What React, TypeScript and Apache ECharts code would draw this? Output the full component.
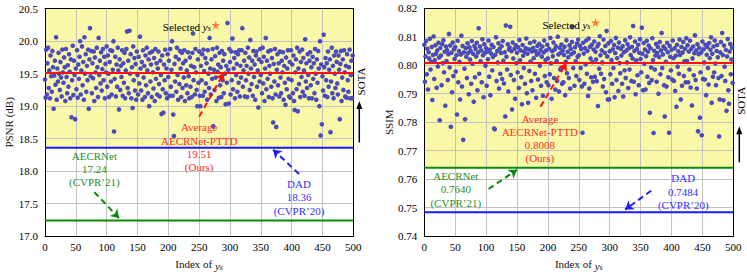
import React, { useEffect, useRef } from 'react';
import * as echarts from 'echarts';

// PSNR (dB) of each candidate y_s, index 0..499
const psnrValues = [
  19.41,19.13,19.87,19.18,19.66,19.90,19.28,19.55,19.12,19.78,19.46,19.22,19.85,19.60,18.96,19.47,19.70,19.33,20.06,19.10,19.58,19.38,19.82,19.50,19.25,
  19.68,19.44,19.15,19.87,19.52,19.36,19.75,19.60,19.08,19.88,19.45,19.20,19.63,19.30,19.80,19.53,19.12,19.72,18.83,19.40,19.93,19.17,19.70,19.48,18.80,
  19.58,19.26,19.86,19.13,19.64,19.42,19.76,20.00,19.18,19.55,19.92,19.32,19.68,19.10,20.06,19.50,19.80,19.22,19.62,19.40,19.87,18.96,19.72,20.20,19.46,
  19.85,19.20,19.66,19.43,19.84,19.08,19.75,19.52,19.28,19.90,19.60,19.14,20.05,19.48,19.70,19.35,19.83,19.24,19.57,19.88,19.40,19.76,19.12,19.65,19.52,
  19.92,19.30,19.78,19.50,19.14,19.68,19.86,19.38,19.18,19.85,19.56,20.00,18.61,19.42,19.76,19.15,19.64,19.30,19.90,19.55,18.95,19.72,19.25,19.62,19.45,
  19.86,19.16,19.66,19.36,19.82,19.12,19.55,19.88,20.15,19.28,19.70,19.20,20.16,19.50,19.80,19.12,19.60,18.97,19.92,19.40,19.74,19.24,19.65,19.10,19.84,
  19.48,19.18,19.76,19.35,20.07,19.58,19.24,19.68,19.10,19.86,19.44,19.62,19.14,19.78,19.32,19.90,19.55,19.20,19.72,19.00,19.82,19.38,19.64,19.14,19.84,
  19.52,19.27,19.74,19.08,19.88,19.42,19.66,19.18,19.58,19.84,19.34,19.15,19.70,19.48,18.88,19.78,19.26,18.90,19.64,19.40,19.87,19.20,19.58,19.12,19.80,
  19.45,19.70,19.16,19.88,19.30,19.56,20.00,19.16,18.87,18.54,19.65,19.38,19.76,19.22,19.90,19.48,19.10,19.72,19.34,19.85,19.58,19.14,19.82,19.28,19.66,
  19.44,19.86,19.08,19.70,19.32,19.55,19.20,19.83,19.46,19.12,19.75,19.30,19.62,19.14,19.82,20.12,19.40,19.60,19.18,19.88,19.52,19.25,19.00,19.72,19.36,
  19.84,19.16,19.00,19.62,19.40,19.80,19.16,19.87,19.54,19.22,19.74,19.35,19.66,19.10,19.86,19.50,19.28,20.05,19.58,19.18,19.72,19.42,19.88,18.69,19.56,
  19.25,19.77,19.44,19.08,19.90,19.53,19.64,19.13,19.82,19.32,19.60,19.14,19.85,19.40,19.70,19.20,19.80,19.50,19.03,19.62,19.36,20.28,19.56,19.04,19.88,
  19.68,19.18,19.84,19.40,20.04,19.26,19.58,19.74,19.12,19.83,19.48,19.65,19.22,19.80,19.36,19.86,19.15,19.62,19.44,19.86,20.20,19.30,19.55,19.70,19.15,
  19.82,19.40,19.62,19.14,19.90,19.50,19.75,19.25,20.02,19.58,19.34,19.70,19.16,19.85,19.45,19.64,19.10,19.78,19.84,19.30,19.55,18.98,19.72,19.38,19.88,
  19.48,19.68,19.20,19.90,19.35,19.76,19.08,19.58,20.05,19.26,19.70,19.42,19.84,19.14,19.62,19.50,19.86,19.30,19.74,19.12,18.75,19.65,19.38,19.88,19.18,
  18.68,19.56,19.80,19.32,19.66,19.15,19.84,19.44,19.20,19.70,19.52,19.83,19.10,19.62,19.36,19.02,19.75,19.26,19.58,19.86,19.42,19.15,19.68,19.13,19.86,
  19.40,19.64,19.20,19.78,19.08,18.94,19.52,19.72,19.26,19.90,18.92,19.58,19.34,19.84,19.14,19.68,19.45,19.87,19.22,19.74,19.55,19.16,20.03,19.38,19.66,
  19.28,19.80,19.48,19.12,19.70,19.83,19.32,19.60,19.12,19.76,19.42,19.66,19.20,19.88,19.50,19.10,19.72,19.36,19.85,19.58,19.00,20.00,18.55,19.64,18.72,
  19.46,19.24,20.10,19.60,19.16,19.74,19.40,19.66,19.14,19.84,19.30,19.56,19.72,18.60,19.38,19.90,19.20,19.62,19.12,19.78,19.50,19.28,19.84,19.68,19.35,
  19.18,19.78,19.56,18.80,19.65,19.85,19.08,19.44,19.72,19.25,19.86,19.52,19.15,19.62,19.13,19.80,19.40,19.22,19.60,19.87,19.12,19.48,19.70,19.12,19.78,
];

// SSIM of each candidate y_s, index 0..499
const ssimValues = [
  .8072,.7942,.8031,.8085,.7968,.8058,.7915,.8046,.8024,.8093,.7985,.8012,.8064,.7878,.8036,.8101,.7952,.8018,.8070,.8040,.7921,.8052,.7996,.8079,.8027,
  .7807,.8061,.8034,.7930,.8075,.8008,.8088,.7975,.8047,.7858,.8066,.8015,.8053,.7948,.8039,.8110,.7992,.8069,.7784,.8044,.7905,.8080,.7962,.8056,.8022,
  .8064,.7978,.8035,.7827,.8086,.7940,.8050,.8012,.7880,.8038,.8104,.7925,.8068,.7738,.8045,.7988,.7810,.8060,.8030,.7955,.8077,.8043,.7898,.8063,.8020,
  .8051,.7935,.8085,.8005,.8040,.7872,.8068,.7958,.8057,.8031,.8079,.7912,.8045,.8130,.7970,.8066,.8014,.8052,.7940,.8091,.8035,.7888,.8074,.8044,.7998,
  .8060,.7928,.8048,.8021,.8087,.7960,.8055,.7895,.8041,.8072,.7982,.8029,.8064,.7778,.7775,.8037,.8098,.7945,.8050,.8010,.8077,.7918,.8058,.7970,.8043,
  .8067,.7952,.8085,.8016,.7936,.8046,.7820,.8140,.8030,.7985,.8074,.7908,.8055,.8062,.8135,.7966,.8049,.7845,.8080,.8024,.7948,.8058,.7882,.8070,.8008,
  .8044,.7975,.8063,.7920,.8089,.8018,.8052,.7958,.7863,.8071,.8033,.7990,.8047,.7935,.8060,.8094,.7902,.8040,.7868,.8056,.7980,.8078,.8013,.7945,.8048,
  .7912,.8061,.8025,.8083,.7970,.8050,.7886,.8037,.8068,.7950,.8041,.8075,.7998,.8054,.7928,.8030,.8066,.7893,.8045,.8087,.7962,.8018,.8052,.7940,.8072,
  .8024,.7930,.8058,.7968,.8096,.8007,.7882,.8049,.8032,.8080,.7955,.8055,.7915,.8067,.8015,.7945,.8100,.8038,.7908,.8061,.7985,.8044,.8073,.7935,.8052,
  .7940,.8036,.8065,.7895,.8012,.8088,.7972,.8047,.8028,.7955,.8070,.7918,.8058,.8039,.8082,.8134,.7990,.8045,.7928,.8063,.8014,.7962,.8076,.8030,.8090,
  .8035,.7948,.8068,.7990,.8057,.7925,.7763,.8079,.8041,.7935,.8060,.8003,.8087,.7970,.8050,.7892,.8094,.7918,.8064,.8024,.7958,.8072,.8011,.7942,.8055,
  .8083,.7960,.8047,.8020,.7944,.8066,.7857,.8075,.7988,.8102,.8035,.7970,.8052,.8010,.7925,.8090,.7952,.8044,.8068,.7905,.8120,.8031,.7880,.8077,.7880,
  .8049,.7968,.8085,.8018,.7935,.8056,.7990,.8071,.7888,.8043,.8096,.7948,.8025,.8062,.7910,.8080,.8008,.7972,.8058,.8034,.7935,.8067,.7890,.8046,.7982,
  .8088,.7955,.8052,.8010,.8074,.7920,.8060,.7985,.8098,.8036,.7945,.8065,.8024,.8138,.7942,.8050,.8083,.7898,.8017,.8057,.7965,.8072,.7930,.8044,.8091,
  .8022,.7975,.8132,.8040,.7912,.8078,.8005,.8055,.7915,.8032,.8086,.7960,.8047,.8069,.7938,.7833,.8060,.7992,.7948,.8095,.8018,.7762,.8051,.7985,.8034,
  .8075,.7942,.8043,.8064,.7900,.8029,.8082,.7968,.8052,.8113,.7990,.8038,.8066,.7930,.7820,.8057,.8012,.7925,.8079,.8046,.7958,.7763,.8068,.8030,.7982,
  .8054,.7950,.8087,.8025,.7945,.8060,.7910,.8033,.7854,.8072,.7995,.8049,.7970,.8090,.8036,.7880,.8064,.7928,.8045,.8082,.7962,.8014,.8058,.7940,.8095,
  .8015,.8070,.7940,.8048,.7985,.8086,.7922,.8057,.7859,.8024,.8066,.7965,.8042,.8105,.7948,.8052,.7918,.8074,.7768,.8039,.8061,.7816,.7975,.8045,.7754,
  .8083,.7952,.8056,.8010,.7950,.8072,.7895,.8037,.8064,.7990,.7932,.8078,.8025,.8054,.8098,.7868,.8040,.7960,.8066,.7975,.8087,.8006,.7930,.8050,.8071,
  .8028,.7955,.7750,.7880,.8045,.8082,.7962,.8113,.8036,.7877,.8069,.7995,.7945,.8054,.7840,.8031,.8092,.7912,.7865,.8048,.8075,.7968,.8020,.8062,.7938,
];

// methods: [ours (average), DAD, AECRNet]
const methodNames = ['AECRNet-PTTD', 'DAD', 'AECRNet'];
const methodVenues = ['(Ours)', '(CVPR\u201920)', '(CVPR\u201921)'];
const psnrScores = [19.51, 18.36, 17.24];
const ssimScores = [0.8008, 0.7484, 0.764];
const selectedPoint = [277, 20.25];
const selectedPointSsim = [277, 0.815];
const xTickValues = [0, 500, 50];

const FONT = 'Liberation Serif';
const COLORS = ['#ff1010', '#1a1aff', '#0a8a0a'];
const TEXT_COLORS = ['#ff2b2b', '#3030ff', '#1f8f1f'];
const DOT = '#4a4abf';
const YELLOW = '#f9f7a8';
const STAR = 'path://M50,0 L61,35 L98,35 L68,57 L79,91 L50,70 L21,91 L32,57 L2,35 L39,35 Z';

const panels = [
  {
    values: psnrValues, scores: psnrScores, sel: selectedPoint, yMin: 17, yMax: 20.5, yInt: 0.5,
    tickDigits: 1, scoreDigits: 2, name: 'PSNR (dB)',
    grid: { left: 45, top: 8.7, width: 308.3, height: 228.8 },
    arrows: [[250, 18.839, 290, 19.51], [412, 17.956, 370, 18.33], [80, 17.676, 120, 17.278]],
    texts: [[250, 18.776], [412, 17.904], [80, 18.339]],
    sota: [18.44, 19.08, 19.38],
  },
  {
    values: ssimValues, scores: ssimScores, sel: selectedPointSsim, yMin: 0.74, yMax: 0.82, yInt: 0.01,
    tickDigits: 2, scoreDigits: 4, name: 'SSIM',
    grid: { left: 424.3, top: 8.3, width: 309, height: 229 },
    arrows: [[188, 0.78542, 230, 0.8008], [367, 0.75593, 325, 0.7493], [104, 0.75653, 150, 0.7633]],
    texts: [[187, 0.78363], [419, 0.7626], [51, 0.76337]],
    sota: [0.7659, 0.7786, 0.7875],
  },
];

function buildOption() {
  const grids: any[] = [];
  const xAxes: any[] = [];
  const yAxes: any[] = [];
  const series: any[] = [];
  const axisLabel = { color: '#000', fontSize: 11, fontFamily: FONT };
  panels.forEach((p, i) => {
    grids.push({ ...p.grid, containLabel: false });
    xAxes.push({
      gridIndex: i, type: 'value', min: xTickValues[0], max: xTickValues[1], interval: xTickValues[2], z: 1.5,
      axisLine: { show: true, onZero: false, lineStyle: { color: '#000', width: 1 } },
      axisTick: { show: false },
      splitLine: { show: true, lineStyle: { color: '#c2c2c2', width: 1 } },
      axisLabel: { ...axisLabel, margin: 5 },
      name: 'Index of {i|y}{s|s}', nameLocation: 'middle', nameGap: 20,
      nameTextStyle: {
        color: '#111', fontSize: 11, fontFamily: FONT, lineHeight: 14, verticalAlign: 'top',
        rich: {
          i: { fontStyle: 'italic', fontSize: 11, fontFamily: FONT, color: '#111', lineHeight: 14, verticalAlign: 'bottom' },
          s: { fontStyle: 'italic', fontSize: 8, fontFamily: FONT, color: '#111', lineHeight: 8, verticalAlign: 'bottom' },
        },
      },
    });
    yAxes.push({
      gridIndex: i, type: 'value', min: p.yMin, max: p.yMax, interval: p.yInt, z: 1.5,
      axisLine: { show: true, onZero: false, lineStyle: { color: '#000', width: 1 } },
      axisTick: { show: false },
      splitLine: { show: true, lineStyle: { color: '#c2c2c2', width: 1 } },
      axisLabel: { ...axisLabel, margin: 7, formatter: (v: number) => v.toFixed(p.tickDigits) },
      name: p.name, nameLocation: 'middle', nameGap: 30,
      nameTextStyle: { color: '#111', fontSize: 11, fontFamily: FONT },
    });
  });
  panels.forEach((p, i) => {
    xAxes.push({
      gridIndex: i, type: 'value', position: 'top', min: xTickValues[0], max: xTickValues[1], z: 1.5,
      axisLine: { show: true, onZero: false, lineStyle: { color: '#000', width: 1 } },
      axisTick: { show: false }, axisLabel: { show: false }, splitLine: { show: false },
    });
    yAxes.push({
      gridIndex: i, type: 'value', position: 'right', min: p.yMin, max: p.yMax, z: 1.5,
      axisLine: { show: true, onZero: false, lineStyle: { color: '#000', width: 1 } },
      axisTick: { show: false }, axisLabel: { show: false }, splitLine: { show: false },
    });
  });

  panels.forEach((p, i) => {
    const sotaTop = Math.max(p.scores[1], p.scores[2]);
    series.push({
      type: 'line', xAxisIndex: i, yAxisIndex: i, data: [], z: 1, silent: true,
      markArea: {
        silent: true, z: 1,
        itemStyle: { color: YELLOW },
        data: [[{ coord: [xTickValues[0], sotaTop] }, { coord: [xTickValues[1], p.yMax] }]],
      },
    });
    series.push({
      type: 'scatter', xAxisIndex: i, yAxisIndex: i, z: 2, silent: true,
      symbolSize: 4.6, itemStyle: { color: DOT, opacity: 1 },
      data: p.values.map((v, k) => [k, v]),
    });
    p.scores.forEach((s, k) => {
      series.push({
        type: 'line', xAxisIndex: i, yAxisIndex: i, z: 4, silent: true, symbol: 'none',
        lineStyle: { color: COLORS[k], width: 2 },
        data: [[xTickValues[0], s], [xTickValues[1], s]],
      });
    });
    series.push({
      type: 'line', xAxisIndex: i, yAxisIndex: i, data: [], z: 5, silent: true,
      markLine: {
        silent: true, z: 5, symbol: ['none', 'arrow'], symbolSize: 8,
        label: { show: false },
        lineStyle: { type: [6, 4], width: 2 },
        data: p.arrows.map((a, k) => [
          { coord: [a[0], a[1]], lineStyle: { color: COLORS[k], type: [6, 4], width: 2 }, itemStyle: { color: COLORS[k] } },
          { coord: [a[2], a[3]] },
        ]),
      },
    });
    series.push({
      type: 'scatter', xAxisIndex: i, yAxisIndex: i, z: 6, silent: true,
      symbol: STAR, symbolSize: 9, itemStyle: { color: '#ff5722' },
      data: [p.sel],
    });
  });

  return {
    animation: false,
    textStyle: { fontFamily: FONT },
    grid: grids,
    xAxis: xAxes,
    yAxis: yAxes,
    series,
  };
}

function buildGraphics(chart: any) {
  const els: any[] = [];
  panels.forEach((p, i) => {
    const toPx = (x: number, y: number) => chart.convertToPixel({ xAxisIndex: i, yAxisIndex: i }, [x, y]);
    p.texts.forEach((t, k) => {
      const [px, py] = toPx(t[0], t[1]);
      const lines = k === 0
        ? ['Average', methodNames[0], p.scores[0].toFixed(p.scoreDigits), methodVenues[0]]
        : [methodNames[k], p.scores[k].toFixed(p.scoreDigits), methodVenues[k]];
      els.push({
        type: 'text', x: px, y: py, silent: true, z: 10,
        style: {
          text: lines.join('\n'), fill: TEXT_COLORS[k], fontSize: 11, fontFamily: FONT,
          align: 'center', verticalAlign: 'top', lineHeight: 13.3,
        },
      });
    });
    const [sx, sy] = toPx(p.sel[0], p.sel[1]);
    els.push({
      type: 'text', x: sx - 5, y: sy + 1, silent: true, z: 10,
      style: {
        text: '{n|Selected }{i|y}{s|s}', align: 'right', verticalAlign: 'middle',
        fill: '#000', fontSize: 11, fontFamily: FONT,
        rich: {
          n: { fill: '#000', fontSize: 11, fontFamily: FONT, lineHeight: 14, verticalAlign: 'bottom' },
          i: { fill: '#000', fontSize: 11, fontFamily: FONT, fontStyle: 'italic', lineHeight: 14, verticalAlign: 'bottom' },
          s: { fill: '#000', fontSize: 8, fontFamily: FONT, fontStyle: 'italic', lineHeight: 8, verticalAlign: 'bottom' },
        },
      },
    });
    const [ax, yb] = toPx(xTickValues[1], p.sota[0]);
    const yt = toPx(xTickValues[1], p.sota[1])[1];
    const yc = toPx(xTickValues[1], p.sota[2])[1];
    const x = ax + 6;
    els.push({ type: 'line', silent: true, z: 10, shape: { x1: x, y1: yb, x2: x, y2: yt + 6 }, style: { stroke: '#000', lineWidth: 1.5 } });
    els.push({ type: 'polygon', silent: true, z: 10, shape: { points: [[x, yt], [x - 3, yt + 8], [x + 3, yt + 8]] }, style: { fill: '#000' } });
    els.push({
      type: 'text', x: x + 2, y: yc, rotation: Math.PI / 2, silent: true, z: 10,
      style: { text: 'SOTA', fill: '#000', fontSize: 11, fontFamily: FONT, align: 'center', verticalAlign: 'middle' },
    });
  });
  return els;
}

export default function App() {
  const ref = useRef<HTMLDivElement>(null);
  useEffect(() => {
    document.body.style.margin = '0';
    if (!ref.current) return;
    const chart = echarts.init(ref.current, undefined, { renderer: 'svg' });
    chart.setOption(buildOption() as any);
    chart.setOption({ graphic: buildGraphics(chart) } as any);
    return () => chart.dispose();
  }, []);
  return <div ref={ref} style={{ width: 747, height: 276, background: '#fff' }} />;
}
